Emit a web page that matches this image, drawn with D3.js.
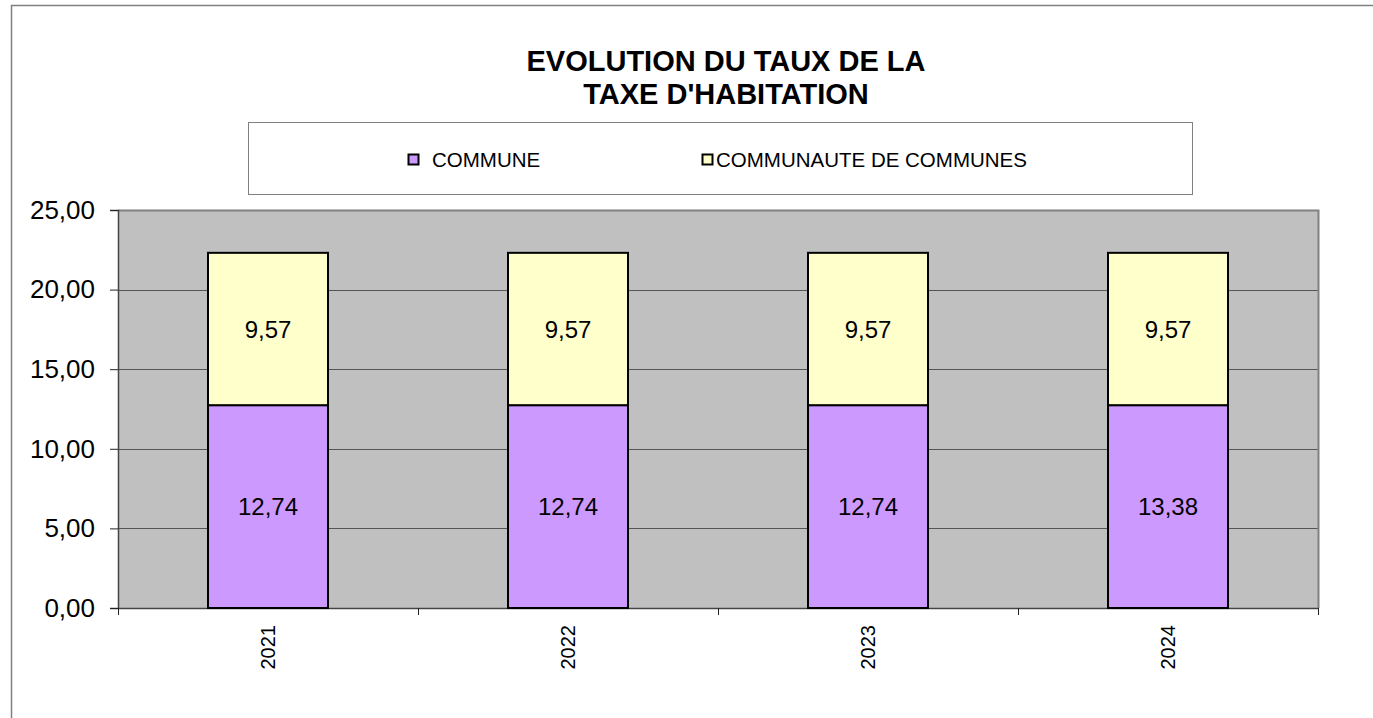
<!DOCTYPE html>
<html>
<head>
<meta charset="utf-8">
<script src="https://cdn.jsdelivr.net/npm/d3@7/dist/d3.min.js"></script>
<style>
    body { margin: 0; background: #fff; }
    svg { display: block; font-family: Arial, "Liberation Sans", sans-serif; }
</style>
</head>
<body>
<svg width="1373" height="718"></svg>
<script>
const years = ["2021", "2022", "2023", "2024"];
const communeValues = [12.74, 12.74, 12.74, 12.74];
const communeLabels = ["12,74", "12,74", "12,74", "13,38"];
const ccValues = [9.57, 9.57, 9.57, 9.57];
const ccLabels = ["9,57", "9,57", "9,57", "9,57"];
const seriesNames = ["COMMUNE", "COMMUNAUTE DE COMMUNES"];
const yTicks = [0, 5, 10, 15, 20, 25];

const svg = d3.select("svg");
const fmt = (v) => d3.format(".2f")(v).replace(".", ",");
const FONT = "Arial, 'Liberation Sans', sans-serif";

// outer chart frame
svg.append("rect")
    .attr("x", 11.5).attr("y", 5.5)
    .attr("width", 1380).attr("height", 730)
    .attr("fill", "#fff").attr("stroke", "#808080").attr("stroke-width", 1.5);

// title
const title = svg.append("text")
    .attr("text-anchor", "middle")
    .attr("font-size", 29).attr("font-weight", "bold");
title.append("tspan").attr("x", 726).attr("y", 71).text("EVOLUTION DU TAUX DE LA");
title.append("tspan").attr("x", 726).attr("y", 104).text("TAXE D'HABITATION");

// legend
svg.append("rect")
    .attr("x", 248.5).attr("y", 122.5)
    .attr("width", 944).attr("height", 72)
    .attr("fill", "#fff").attr("stroke", "#808080").attr("stroke-width", 1);

const legendColors = ["#CC99FF", "#FFFFCC"];
const legendX = [408, 702];
seriesNames.forEach((name, i) => {
    svg.append("rect")
        .attr("x", legendX[i] + 0.5).attr("y", 154.5)
        .attr("width", 10).attr("height", 10)
        .attr("fill", legendColors[i]).attr("stroke", "#000").attr("stroke-width", 2);
    svg.append("text")
        .attr("x", legendX[i] + (i === 0 ? 24 : 14)).attr("y", 167)
        .attr("font-size", 20.5)
        .text(name);
});

// plot
const plot = { left: 118, right: 1318, top: 210, bottom: 608 };

const x = d3.scaleBand()
    .domain(years)
    .range([plot.left, plot.right])
    .paddingInner(0.6).paddingOuter(0.3);

const y = d3.scaleLinear()
    .domain([0, 25])
    .range([plot.bottom, plot.top]);

svg.append("rect")
    .attr("x", plot.left).attr("y", plot.top)
    .attr("width", plot.right - plot.left).attr("height", plot.bottom - plot.top)
    .attr("fill", "#C0C0C0");

// gridlines
svg.append("g")
    .selectAll("line")
    .data(yTicks.filter(d => d > 0 && d < 25))
    .enter().append("line")
    .attr("x1", plot.left).attr("x2", plot.right)
    .attr("y1", d => Math.round(y(d)) + 0.5).attr("y2", d => Math.round(y(d)) + 0.5)
    .attr("stroke", "#555").attr("stroke-width", 1);

// plot border top/right
svg.append("path")
    .attr("d", `M${plot.left},${plot.top + 0.5}H${plot.right + 0.5}V${plot.bottom}`)
    .attr("fill", "none").attr("stroke", "#808080").attr("stroke-width", 2);

// y axis
const yAxis = svg.append("g")
    .attr("transform", `translate(${plot.left},0)`)
    .call(d3.axisLeft(y).tickValues(yTicks).tickFormat(fmt).tickSize(8).tickPadding(15));
yAxis.select(".domain").attr("stroke", "#444").attr("stroke-width", 1.5);
yAxis.selectAll(".tick line").attr("stroke", "#222");
yAxis.selectAll("text").attr("font-size", 26).attr("fill", "#000")
    .attr("font-family", FONT);

// x axis
const xAxisScale = d3.scaleLinear().domain([0, years.length]).range([plot.left, plot.right]);
const xAxis = svg.append("g")
    .attr("transform", `translate(0,${plot.bottom})`)
    .call(d3.axisBottom(xAxisScale).ticks(years.length).tickFormat("").tickSize(7).tickSizeOuter(0));
xAxis.select(".domain").attr("stroke", "#444").attr("stroke-width", 1.5);
xAxis.selectAll(".tick line").attr("stroke", "#222");

svg.append("g")
    .selectAll("text")
    .data(years)
    .enter().append("text")
    .attr("transform", d => `translate(${x(d) + x.bandwidth() / 2 + 7},${plot.bottom + 17}) rotate(-90)`)
    .attr("text-anchor", "end")
    .attr("font-size", 20)
    .text(d => d);

// stacked bars
const rows = years.map((yr, i) => ({
    year: yr,
    segs: [
        { y0: 0, y1: communeValues[i], label: communeLabels[i], color: "#CC99FF" },
        { y0: communeValues[i], y1: communeValues[i] + ccValues[i], label: ccLabels[i], color: "#FFFFCC" }
    ]
}));

const barG = svg.append("g");
rows.forEach(r => {
    r.segs.forEach(s => {
        barG.append("rect")
            .attr("x", x(r.year)).attr("y", y(s.y1))
            .attr("width", x.bandwidth()).attr("height", y(s.y0) - y(s.y1))
            .attr("fill", s.color).attr("stroke", "#000").attr("stroke-width", 2);
        barG.append("text")
            .attr("x", x(r.year) + x.bandwidth() / 2)
            .attr("y", (y(s.y0) + y(s.y1)) / 2)
            .attr("dy", "0.36em")
            .attr("text-anchor", "middle")
            .attr("font-size", 24)
            .text(s.label);
    });
});
</script>
</body>
</html>
